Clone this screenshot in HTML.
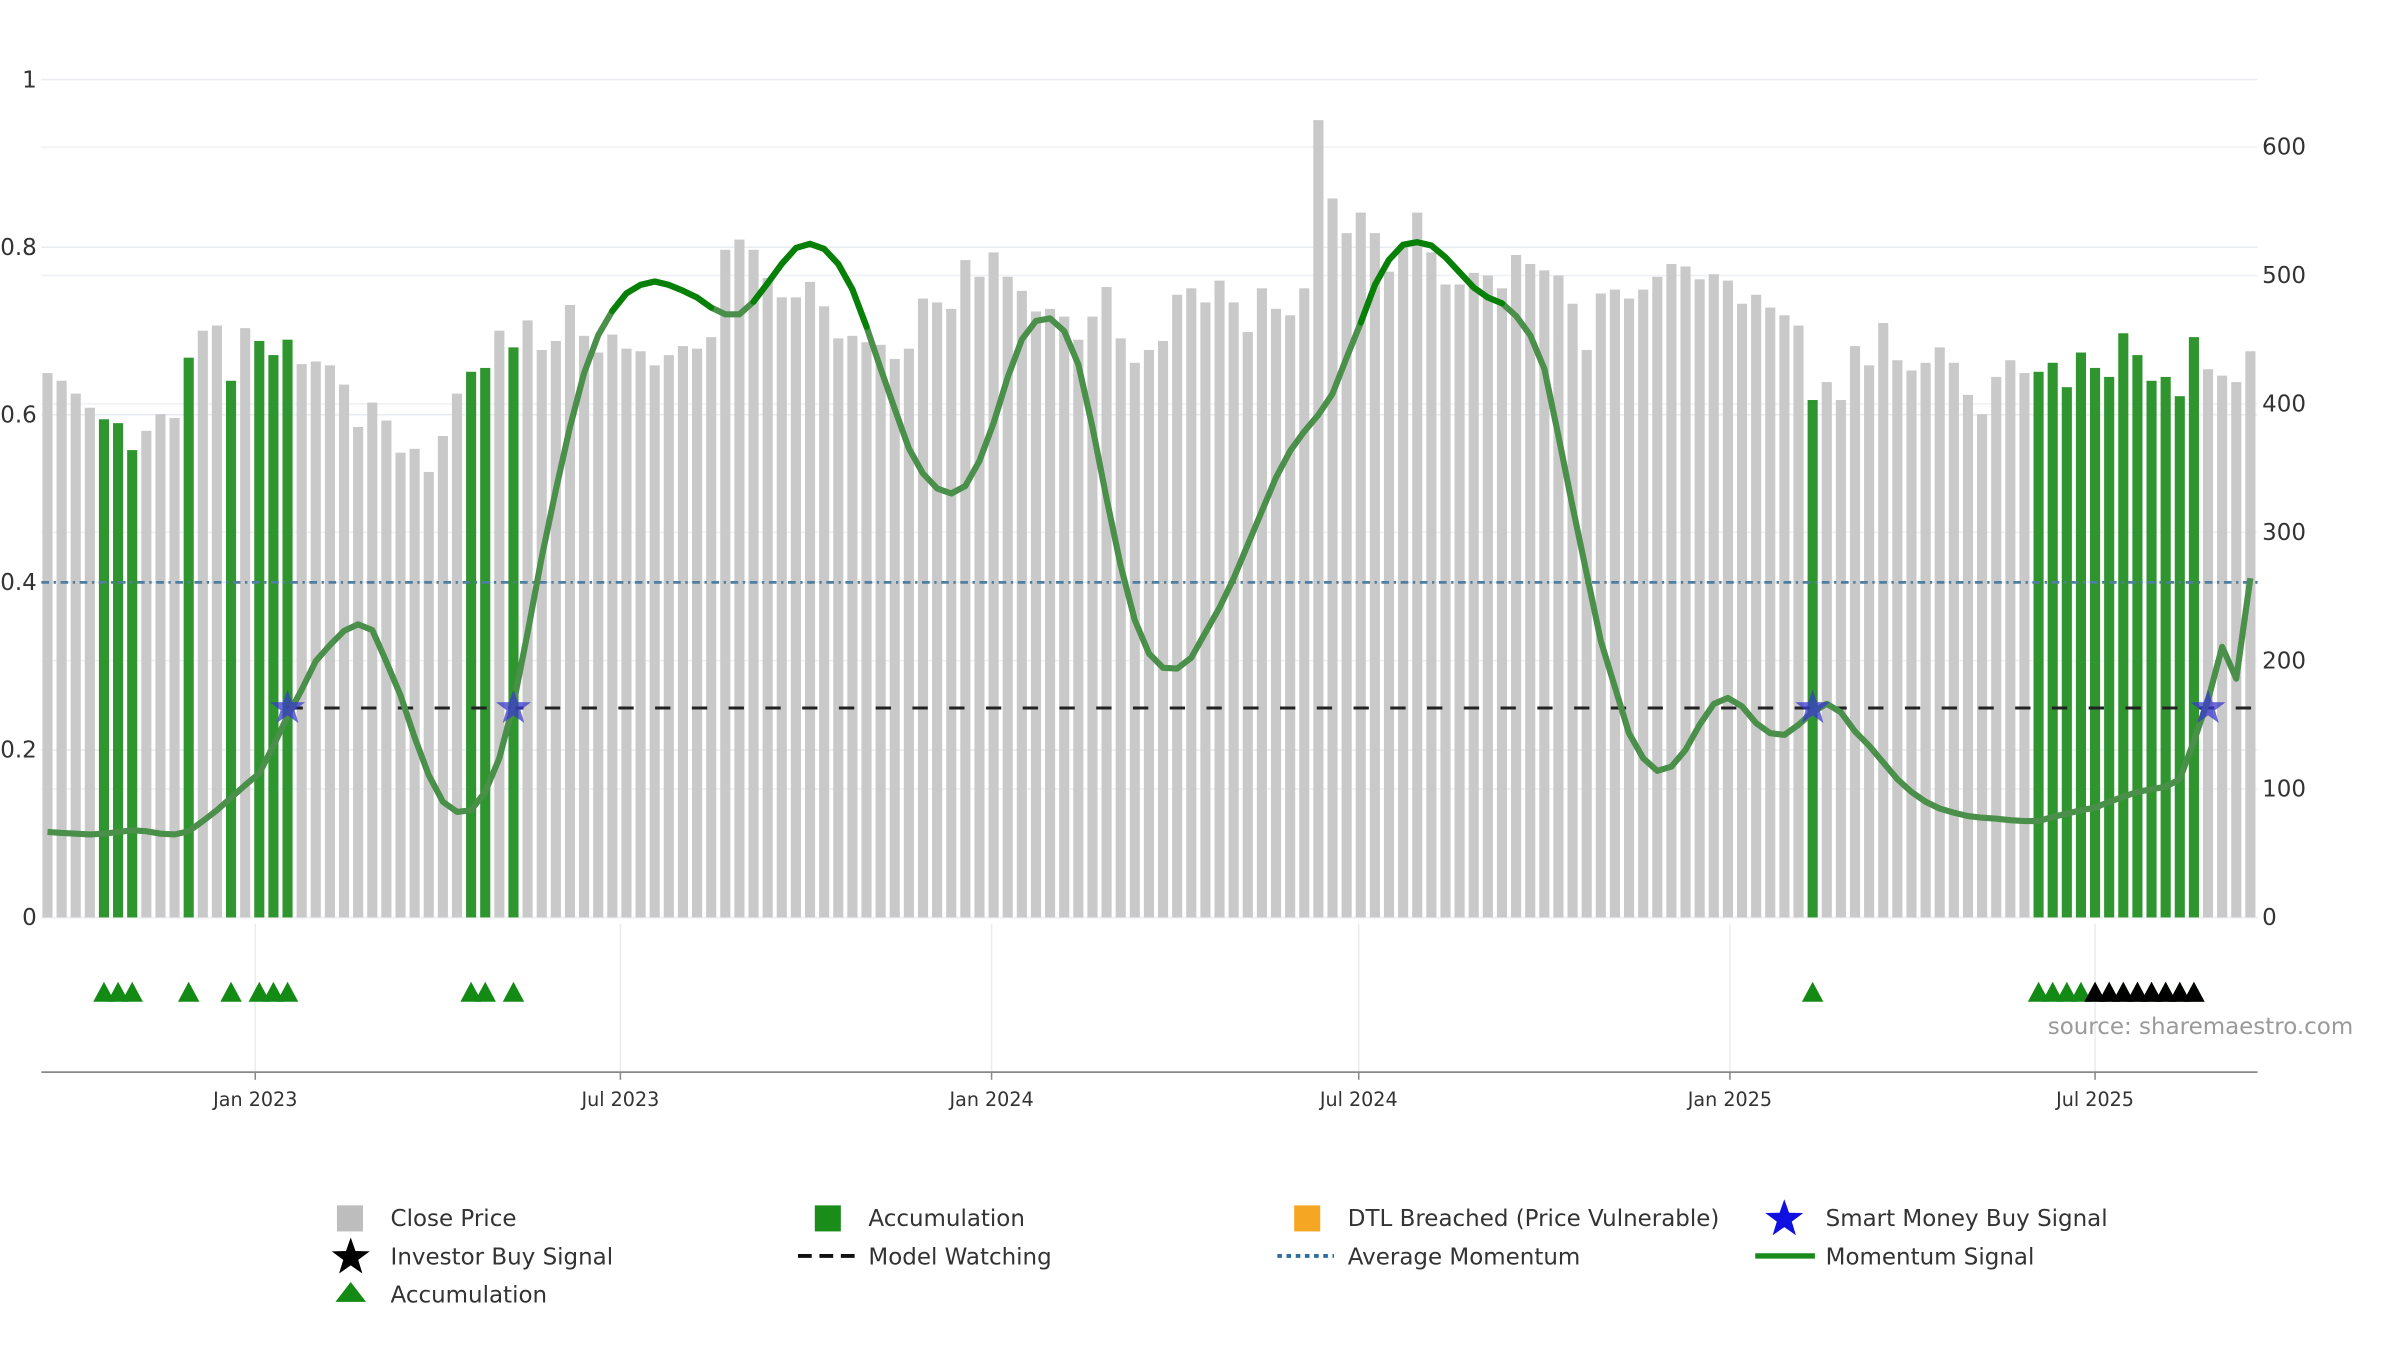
<!DOCTYPE html>
<html><head><meta charset="utf-8"><style>
html,body{margin:0;padding:0;background:#fff;}
svg{display:block;font-family:"DejaVu Sans","Liberation Sans",sans-serif;}
</style></head><body>
<svg id="chart" width="2400" height="1350" viewBox="0 0 1567 881.4" xmlns="http://www.w3.org/2000/svg">
<g id="grid"></g>
<g id="bars"></g>
<g id="lines"></g>
<g id="marks"></g>
<g id="axes"></g>
<text x="1337" y="675" font-size="15" fill="#9a9a9a">source: sharemaestro.com</text>
<g id="legend" font-size="15" fill="#333"></g>
</svg>
<script>
const closePrice = [424,418,408,397,388,385,364,379,392,389,436,457,461,418,459,449,438,450,431,433,
430,415,382,401,387,362,365,347,375,408,425,428,457,444,465,442,449,477,453,440,
454,443,441,430,438,445,443,452,520,528,520,498,483,483,495,476,451,453,448,446,
435,443,482,479,474,512,499,518,499,488,472,474,468,450,468,491,451,432,442,449,
485,490,479,496,479,456,490,474,469,490,621,560,533,549,533,503,524,549,518,493,
493,502,500,490,516,509,504,500,478,442,486,489,482,489,499,509,507,497,501,496,
478,485,475,469,461,403,417,403,445,430,463,434,426,432,444,432,407,392,421,434,
424,425,432,413,440,428,421,455,438,418,421,406,452,427,422,417,441];
const accumulationIdx = [4,5,6,10,13,15,16,17,30,31,33,125,141,142,143,144,145,146,147,148,149,150,151,152];
const investorIdx = [145,146,147,148,149,150,151,152];
const smartMoneyIdx = [17,33,125,153];
const momentum = [.102,.101,.100,.099,.100,.102,.104,.103,.100,.099,.103,.115,.128,.143,.158,.172,.205,.240,.272,.306,
.325,.342,.350,.343,.305,.265,.215,.170,.138,.126,.128,.150,.190,.255,.340,.430,.510,.585,.650,.695,
.724,.745,.755,.759,.755,.748,.740,.728,.720,.720,.735,.757,.780,.799,.804,.798,.780,.750,.705,.655,
.607,.560,.530,.512,.506,.515,.545,.590,.645,.690,.712,.715,.700,.660,.585,.500,.420,.355,.315,.298,
.297,.310,.340,.370,.405,.445,.485,.525,.557,.580,.600,.625,.668,.710,.755,.785,.803,.806,.802,.788,
.770,.752,.740,.733,.718,.695,.655,.575,.490,.410,.330,.275,.220,.190,.175,.180,.200,.230,.255,.262,
.252,.232,.220,.218,.230,.245,.255,.245,.222,.205,.185,.165,.150,.138,.130,.125,.121,.119,.118,.116,
.115,.115,.120,.124,.128,.131,.138,.144,.150,.153,.156,.165,.210,.260,.323,.285,.405];
const avgMomentum = 0.4;
const modelWatching = 0.25;
const leftTicks = [0,0.2,0.4,0.6,0.8,1];
const leftTickLabels = ["0","0.2","0.4","0.6","0.8","1"];
const rightTicks = [0,100,200,300,400,500,600];
const xTickDates = ["2023-01-01","2023-07-01","2024-01-01","2024-07-01","2025-01-01","2025-07-01"];
const xTickLabels = ["Jan 2023","Jul 2023","Jan 2024","Jul 2024","Jan 2025","Jul 2025"];
const startDate = "2022-09-20";

const NS="http://www.w3.org/2000/svg";
const X0=31, DX=9.22, PL=27, PR=1474;
const xIdx = i => X0 + DX*i;
const xDate = d => xIdx((new Date(d) - new Date(startDate))/(7*864e5));
const yL = v => 599 - v*547;
const yR = v => 599 - v*0.8383;
function mk(tag, attrs, parent){const e=document.createElementNS(NS,tag);for(const k in attrs)e.setAttribute(k,attrs[k]);parent.appendChild(e);return e;}
const G=id=>document.getElementById(id);

leftTicks.forEach(v=>{const l=mk('line',{x1:PL,x2:PR,y1:yL(v),y2:yL(v),stroke:'#e8ebf0','stroke-width':1},G('grid'));

});
rightTicks.forEach(v=>{const l=mk('line',{x1:PL,x2:PR,y1:yR(v),y2:yR(v),stroke:'#eef0f4','stroke-width':1},G('grid'));

});
xTickDates.forEach(d=>{const l=mk('line',{x1:xDate(d),x2:xDate(d),y1:603,y2:700,stroke:'#ececec','stroke-width':1},G('grid'));

});

closePrice.forEach((v,i)=>{const acc=accumulationIdx.includes(i);
const r=mk('rect',{x:xIdx(i)-3.3,y:yR(v),width:6.6,height:599-yR(v),fill:acc?'#2f952f':'#c9c9c9'},G('bars'));

});

const avg=mk('line',{x1:PL,x2:PR,y1:yL(avgMomentum),y2:yL(avgMomentum),stroke:'#4f7ea0','stroke-width':1.8,'stroke-dasharray':'5,3,1.5,3'},G('lines'));


const mw=mk('line',{x1:xIdx(smartMoneyIdx[0]),x2:1470,y1:yL(modelWatching),y2:yL(modelWatching),stroke:'#222','stroke-width':2,'stroke-dasharray':'10,14'},G('lines'));



let d='';momentum.forEach((v,i)=>{d+=(i?'L':'M')+xIdx(i).toFixed(1)+','+yL(v).toFixed(1);});
const ml=mk('path',{d:d,fill:'none',stroke:'#4a8f4a','stroke-width':4,'stroke-linejoin':'round'},G('lines'));


let d2='';momentum.forEach((v,i)=>{if(i>0&&(v>0.735||momentum[i-1]>0.735)&&v>0.7&&momentum[i-1]>0.7){d2+='M'+xIdx(i-1).toFixed(1)+','+yL(momentum[i-1]).toFixed(1)+'L'+xIdx(i).toFixed(1)+','+yL(v).toFixed(1);}});
const mh=mk('path',{d:d2,fill:'none',stroke:'#078007','stroke-width':4,'stroke-linecap':'round'},G('lines'));



function starPts(cx,cy,R,r){let p=[];for(let k=0;k<10;k++){const a=-Math.PI/2+k*Math.PI/5;const rr=k%2?r:R;p.push((cx+rr*Math.cos(a)).toFixed(1)+','+(cy+rr*Math.sin(a)).toFixed(1));}return p.join(' ');}
smartMoneyIdx.forEach(i=>{const s=mk('polygon',{points:starPts(xIdx(i),yL(modelWatching),12,4.8),fill:'#3a3acc','fill-opacity':0.75},G('marks'));

});

function tri(cx,cy,c){return mk('polygon',{points:`${cx-7},${cy+6} ${cx+7},${cy+6} ${cx},${cy-7}`,fill:c},G('marks'));}
accumulationIdx.forEach(i=>{const t=tri(xIdx(i),648,'#138a13');

});
investorIdx.forEach(i=>{const t=tri(xIdx(i),648,'#000');

});

leftTicks.forEach((v,i)=>{const t=mk('text',{x:24,y:yL(v)+5,'text-anchor':'end','font-size':15,fill:'#333'},G('axes'));t.textContent=leftTickLabels[i];

});
rightTicks.forEach(v=>{const t=mk('text',{x:1477,y:yR(v)+5,'font-size':15,fill:'#333'},G('axes'));t.textContent=String(v);

});
const ax=mk('line',{x1:PL,x2:PR,y1:700,y2:700,stroke:'#888','stroke-width':1.2},G('axes'));


xTickDates.forEach((dd,i)=>{const x=xDate(dd);
const tk=mk('line',{x1:x,x2:x,y1:700,y2:705,stroke:'#888'},G('axes'));


const t=mk('text',{x:x,y:722,'text-anchor':'middle','font-size':12.5,fill:'#333'},G('axes'));t.textContent=xTickLabels[i];

});

const L=G('legend');
function ltext(x,y,s){const t=mk('text',{x:x,y:y+5.5,'font-size':15,fill:'#333'},L);t.textContent=s;return t;}
let e;
e=mk('rect',{x:220,y:787,width:17,height:17,fill:'#bdbdbd'},L);
e=ltext(255,795,'Close Price');
e=mk('rect',{x:532,y:787,width:17,height:17,fill:'#1a8c1a'},L);
e=ltext(567,795,'Accumulation');
e=mk('rect',{x:845,y:787,width:17,height:17,fill:'#f5a623'},L);
e=ltext(880,795,'DTL Breached (Price Vulnerable)');
e=mk('polygon',{points:starPts(1165,796,13,5.2),fill:'#1010e0'},L);
e=ltext(1192,795,'Smart Money Buy Signal');
e=mk('polygon',{points:starPts(229,821,13,5.2),fill:'#000'},L);
e=ltext(255,820,'Investor Buy Signal');
e=mk('line',{x1:521,x2:558,y1:820,y2:820,stroke:'#111','stroke-width':2.5,'stroke-dasharray':'9,5'},L);
e=ltext(567,820,'Model Watching');
e=mk('line',{x1:834,x2:871,y1:820,y2:820,stroke:'#2e6e9e','stroke-width':2.5,'stroke-dasharray':'3,3'},L);
e=ltext(880,820,'Average Momentum');
e=mk('line',{x1:1146,x2:1185,y1:820,y2:820,stroke:'#1a8a1a','stroke-width':3.5},L);
e=ltext(1192,820,'Momentum Signal');
e=mk('polygon',{points:'219,850 239,850 229,837',fill:'#138a13'},L);
e=ltext(255,845,'Accumulation');
</script>
</body></html>
